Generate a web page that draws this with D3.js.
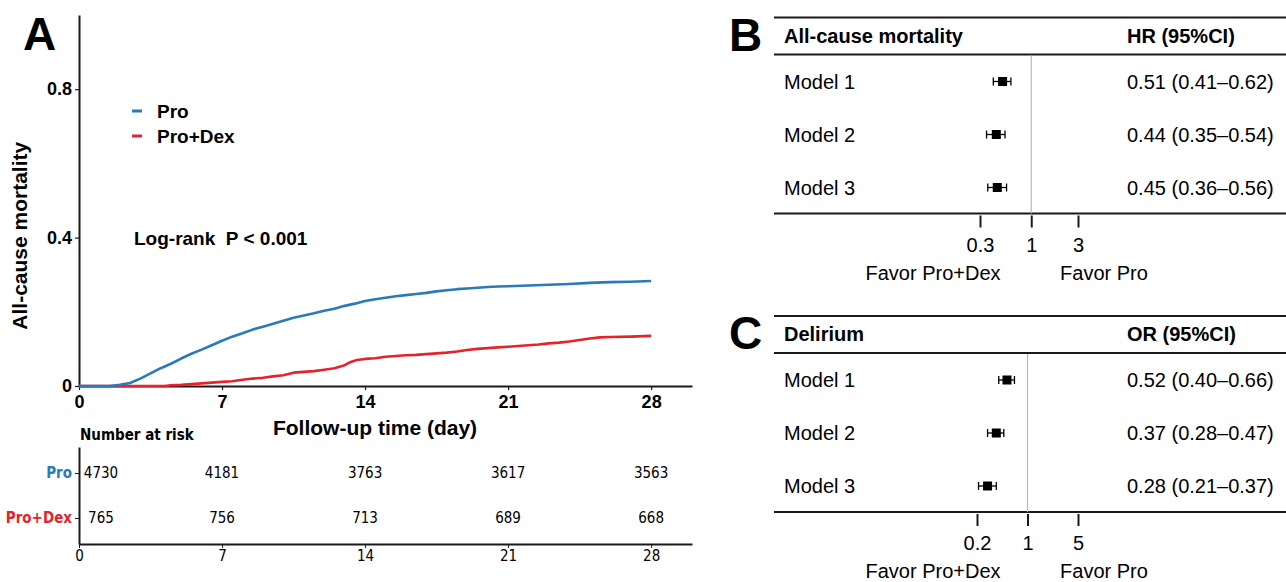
<!DOCTYPE html>
<html>
<head>
<meta charset="utf-8">
<script src="https://cdn.jsdelivr.net/npm/d3@7"></script>
<style>
	body { margin: 0; background: #fff; }
	svg { display: block; font-family: "Liberation Sans", Arial, sans-serif; }
	.narrow { font-family: "Liberation Sans Narrow", "Arial Narrow", "DejaVu Sans Condensed", sans-serif; }
</style>
</head>
<body>
<svg id="chart" width="1286" height="582"></svg>
<script>
// --- Data ---

// Cumulative all-cause mortality (day, value)
const proCurve = [
	[0, 0], [1.5, 0], [2, 0.003], [2.5, 0.008], [3, 0.02], [3.5, 0.034], [4, 0.048], [4.5, 0.06],
	[5, 0.074], [5.5, 0.087], [6, 0.098], [6.5, 0.11], [7, 0.122], [7.5, 0.133], [8, 0.142],
	[8.5, 0.152], [9, 0.16], [9.5, 0.168], [10, 0.176], [10.5, 0.184], [11, 0.19], [11.5, 0.196],
	[12, 0.203], [12.5, 0.208], [13, 0.216], [13.5, 0.222], [14, 0.229], [14.5, 0.234], [15, 0.238],
	[15.5, 0.242], [16, 0.245], [16.5, 0.248], [17, 0.251], [17.5, 0.255], [18, 0.258], [18.5, 0.261],
	[19, 0.263], [19.5, 0.265], [20, 0.267], [20.5, 0.268], [21, 0.269], [22, 0.271], [23, 0.273],
	[24, 0.275], [25, 0.278], [26, 0.28], [27, 0.281], [28, 0.283],
];
const dexCurve = [
	[0, 0], [4.2, 0], [4.5, 0.002], [5, 0.003], [5.5, 0.005], [6, 0.007], [6.5, 0.009], [7, 0.011],
	[7.5, 0.013], [8, 0.017], [8.5, 0.02], [9, 0.022], [9.5, 0.026], [10, 0.029], [10.5, 0.036],
	[11, 0.038], [11.5, 0.04], [12, 0.044], [12.5, 0.048], [13, 0.056], [13.3, 0.065], [13.6, 0.07],
	[14, 0.073], [14.5, 0.075], [15, 0.079], [15.5, 0.081], [16, 0.083], [16.5, 0.084], [17, 0.086],
	[17.5, 0.088], [18, 0.09], [18.5, 0.093], [19, 0.097], [19.5, 0.1], [20, 0.102], [20.5, 0.104],
	[21, 0.106], [21.5, 0.108], [22, 0.11], [22.5, 0.112], [23, 0.115], [23.5, 0.117], [24, 0.12],
	[24.5, 0.124], [25, 0.128], [25.5, 0.131], [26, 0.132], [27, 0.133], [28, 0.135],
];

const groups = ['Pro', 'Pro+Dex'];
const dayTicks = [0, 7, 14, 21, 28];
const mortalityTicks = [0, 0.4, 0.8];
const proAtRisk = [4730, 4181, 3763, 3617, 3563];
const dexAtRisk = [765, 756, 713, 689, 668];

const models = ['Model 1', 'Model 2', 'Model 3'];
const hrEst = [0.51, 0.44, 0.45];
const hrLow = [0.41, 0.35, 0.36];
const hrHigh = [0.62, 0.54, 0.56];
const hrTicks = [0.3, 1, 3];

const orEst = [0.52, 0.37, 0.28];
const orLow = [0.40, 0.28, 0.21];
const orHigh = [0.66, 0.47, 0.37];
const orTicks = [0.2, 1, 5];

const colors = { 'Pro': '#2a7ab8', 'Pro+Dex': '#e4232b' };
const ink = '#1a1a1a';

const svg = d3.select('#chart');

// Panel A: cumulative mortality curves
const x = d3.scaleLinear().domain([0, 30]).range([79, 692]);
const y = d3.scaleLinear().domain([0, 1]).range([386, 15]);

const gA = svg.append('g');

gA.append('text').attr('x', 23).attr('y', 50)
	.attr('font-size', 46).attr('font-weight', 'bold').text('A');

const yAxis = gA.append('g').attr('transform', `translate(${x(0)},0)`)
	.call(d3.axisLeft(y).tickValues(mortalityTicks).tickSize(4).tickSizeOuter(0).tickPadding(3)
		.tickFormat(d => d === 0 ? '0' : d3.format('.1f')(d)));
const xAxis = gA.append('g').attr('transform', `translate(0,${y(0)})`)
	.call(d3.axisBottom(x).tickValues(dayTicks).tickSize(4).tickSizeOuter(0).tickPadding(5));

[yAxis, xAxis].forEach((ax) => {
	ax.select('.domain').attr('stroke', ink).attr('stroke-width', 2);
	ax.selectAll('.tick line').attr('stroke', ink).attr('stroke-width', 1.2);
	ax.selectAll('.tick text').attr('fill', '#000').attr('font-size', 18).attr('font-weight', 'bold')
		.attr('font-family', '"Liberation Sans", Arial, sans-serif');
});

gA.append('text').attr('transform', `translate(27,${y(0.405)}) rotate(-90)`)
	.attr('text-anchor', 'middle').attr('font-size', 21).attr('font-weight', 'bold')
	.text('All-cause mortality');
gA.append('text').attr('x', 375).attr('y', 435)
	.attr('text-anchor', 'middle').attr('font-size', 21).attr('font-weight', 'bold')
	.text('Follow-up time (day)');

const line = d3.line().x(d => x(d[0])).y(d => y(d[1]));
[[dexCurve, 'Pro+Dex'], [proCurve, 'Pro']].forEach(([curve, g]) => {
	gA.append('path').datum(curve).attr('d', line)
		.attr('fill', 'none').attr('stroke', colors[g]).attr('stroke-width', 2.6)
		.attr('stroke-linejoin', 'round');
});

// Legend
groups.forEach((g, i) => {
	const ly = 111 + i * 25;
	gA.append('line').attr('x1', 132).attr('x2', 142).attr('y1', ly).attr('y2', ly)
		.attr('stroke', colors[g]).attr('stroke-width', 3);
	gA.append('text').attr('x', 157).attr('y', ly).attr('dy', '0.35em')
		.attr('font-size', 19).attr('font-weight', 'bold').text(g);
});

gA.append('text').attr('x', 134).attr('y', 238).attr('dy', '0.35em')
	.attr('font-size', 19).attr('font-weight', 'bold').attr('xml:space', 'preserve')
	.text('Log-rank  P < 0.001');

// Number at risk table
const yRisk = d3.scalePoint().domain(groups).range([447, 544]).padding(0.58);
const gRisk = svg.append('g').attr('class', 'narrow');

gRisk.append('text').attr('x', 80).attr('y', 435).attr('dy', '0.35em')
	.attr('font-size', 15).attr('font-weight', 'bold').text('Number at risk');

const riskY = gRisk.append('g').attr('transform', `translate(${x(0)},0)`)
	.call(d3.axisLeft(yRisk).tickSize(4).tickSizeOuter(0).tickPadding(3));
const riskX = gRisk.append('g').attr('transform', `translate(0,544)`)
	.call(d3.axisBottom(x).tickValues(dayTicks).tickSize(4).tickSizeOuter(0).tickPadding(2));
[riskY, riskX].forEach((ax) => {
	ax.attr('font-family', null);
	ax.select('.domain').attr('stroke', ink).attr('stroke-width', 2);
	ax.selectAll('.tick line').attr('stroke', ink);
	ax.selectAll('.tick text').attr('fill', '#000').attr('font-size', 15);
});
riskY.selectAll('.tick text').attr('font-weight', 'bold').attr('fill', d => colors[d]);

[[proAtRisk, 'Pro'], [dexAtRisk, 'Pro+Dex']].forEach(([counts, g]) => {
	gRisk.selectAll(null).data(counts).enter().append('text')
		.attr('x', (d, i) => x(dayTicks[i]) + (i === 0 ? 22 : 0))
		.attr('y', yRisk(g)).attr('dy', '0.35em')
		.attr('text-anchor', 'middle').attr('font-size', 15)
		.text(d => d);
});

// Panels B and C: forest tables
function drawForest({ label, top, title, measure, est, low, high, ticks, range }) {
	const g = svg.append('g');
	const fx = d3.scaleLog().domain([ticks[0], ticks[2]]).range(range);
	const fy = d3.scalePoint().domain(models).range([top + 64, top + 170]);
	const left = 774;
	const right = 1286;
	const headerLine = top + 37;
	const bottom = top + 196;

	g.append('text').attr('x', 729).attr('y', top + 33)
		.attr('font-size', 46).attr('font-weight', 'bold').text(label);

	[top, headerLine, bottom].forEach((ly) => {
		g.append('line').attr('x1', left).attr('x2', right).attr('y1', ly).attr('y2', ly)
			.attr('stroke', ink).attr('stroke-width', 2);
	});

	g.append('text').attr('x', 784).attr('y', top + 18).attr('dy', '0.35em')
		.attr('font-size', 20).attr('font-weight', 'bold').text(title);
	g.append('text').attr('x', 1127).attr('y', top + 18).attr('dy', '0.35em')
		.attr('font-size', 20).attr('font-weight', 'bold').text(`${measure} (95%CI)`);

	// reference line at 1
	g.append('line').attr('x1', fx(1)).attr('x2', fx(1)).attr('y1', headerLine + 1).attr('y2', bottom)
		.attr('stroke', '#b8b8b8').attr('stroke-width', 1.2);

	const fmt = d3.format('.2f');
	models.forEach((m, i) => {
		const ry = fy(m);
		g.append('text').attr('x', 784).attr('y', ry).attr('dy', '0.35em')
			.attr('font-size', 20).text(m);
		g.append('text').attr('x', 1127).attr('y', ry).attr('dy', '0.35em')
			.attr('font-size', 20).text(`${fmt(est[i])} (${fmt(low[i])}\u2013${fmt(high[i])})`);

		g.append('line').attr('x1', fx(low[i])).attr('x2', fx(high[i])).attr('y1', ry).attr('y2', ry)
			.attr('stroke', '#000').attr('stroke-width', 1.3);
		[low[i], high[i]].forEach((v) => {
			g.append('line').attr('x1', fx(v)).attr('x2', fx(v)).attr('y1', ry - 4).attr('y2', ry + 4)
				.attr('stroke', '#000').attr('stroke-width', 1.3);
		});
		g.append('rect').attr('x', fx(est[i]) - 4.5).attr('y', ry - 4.5)
			.attr('width', 9).attr('height', 9).attr('fill', '#000');
	});

	const ax = g.append('g').attr('transform', `translate(0,${bottom + 2})`)
		.call(d3.axisBottom(fx).tickValues(ticks).tickFormat(d => d).tickSize(12).tickPadding(10));
	ax.select('.domain').remove();
	ax.attr('font-family', null);
	ax.selectAll('.tick line').attr('stroke', ink).attr('stroke-width', 2);
	ax.selectAll('.tick text').attr('fill', '#000').attr('font-size', 20);

	g.append('text').attr('x', 933).attr('y', top + 255).attr('dy', '0.35em')
		.attr('text-anchor', 'middle').attr('font-size', 20).text('Favor Pro+Dex');
	g.append('text').attr('x', 1104).attr('y', top + 255).attr('dy', '0.35em')
		.attr('text-anchor', 'middle').attr('font-size', 20).text('Favor Pro');
}

drawForest({
	label: 'B', top: 17.5, title: 'All-cause mortality', measure: 'HR',
	est: hrEst, low: hrLow, high: hrHigh, ticks: hrTicks, range: [980, 1078],
});
drawForest({
	label: 'C', top: 316, title: 'Delirium', measure: 'OR',
	est: orEst, low: orLow, high: orHigh, ticks: orTicks, range: [977, 1078],
});
</script>
</body>
</html>
